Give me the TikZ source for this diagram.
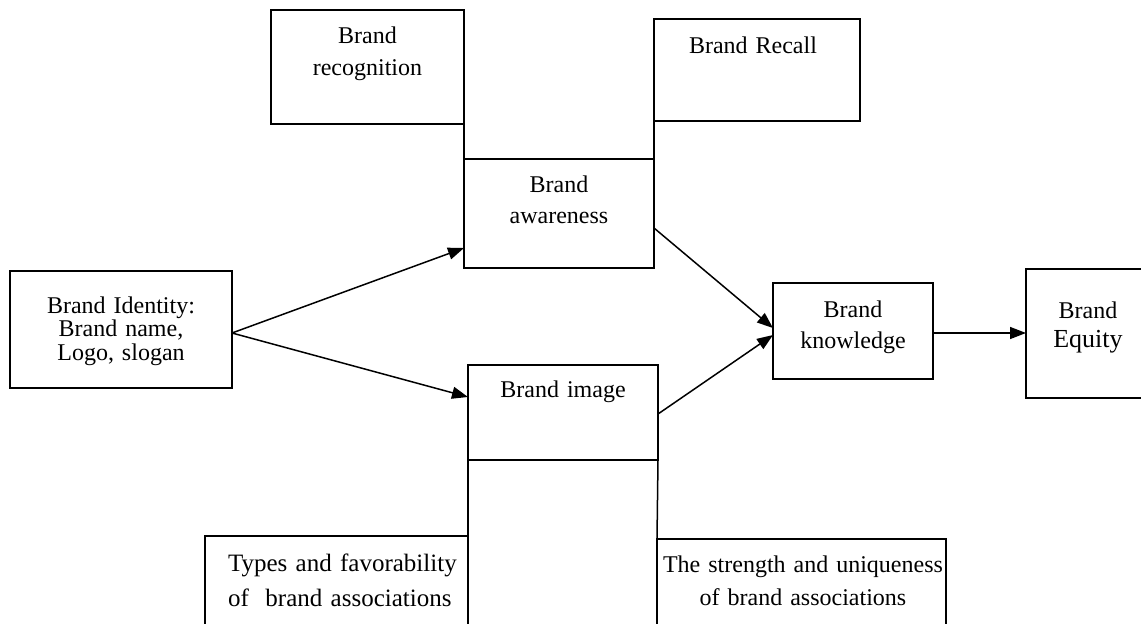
\documentclass[tikz,border=0pt]{standalone}
\usepackage{fontspec}
\setmainfont{Liberation Serif}
\usetikzlibrary{arrows.meta,calc}
\begin{document}
\begin{tikzpicture}[x=1pt,y=-1pt,
  box/.style={draw, line width=1.6pt, inner sep=0pt, outer sep=0pt, anchor=north west},
  lbl/.style={inner sep=0pt, anchor=base, align=center, text width=300pt,
              font=\fontsize{24}{31}\selectfont},
  conn/.style={line width=1.5pt},
  arr/.style={conn, -{Triangle[length=16pt,width=12pt]}}]
\fill[white] (0,0) rectangle (1141,624);
\useasboundingbox (0,0) rectangle (1141,624);

% boxes
\node[box, minimum width=193pt, minimum height=114pt] (rec) at (271,10) {};
\node[box, minimum width=206pt, minimum height=102pt] (rcl) at (654,19) {};
\node[box, minimum width=190pt, minimum height=109pt] (aw)  at (464,159) {};
\node[box, minimum width=222pt, minimum height=117pt] (id)  at (10,271) {};
\node[box, minimum width=190pt, minimum height=95pt]  (img) at (468,365) {};
\node[box, minimum width=160pt, minimum height=96pt]  (kn)  at (773,283) {};
\node[box, minimum width=124pt, minimum height=129pt] (eq)  at (1026,269) {};
\node[box, minimum width=263pt, minimum height=110pt] (typ) at (205,536) {};
\node[box, minimum width=289pt, minimum height=110pt] (str) at (657,539) {};

% labels
\node[lbl, font=\fontsize{24}{32}\selectfont] (rec-t) at (367.5,43) {Brand\\recognition};
\node[lbl] (rcl-t) at (753,53) {Brand Recall};
\node[lbl] (aw-t) at (559,192) {Brand\\awareness};
\node[lbl, font=\fontsize{24}{23.5}\selectfont] (id-t) at (121,313) {Brand Identity:\\Brand name,\\Logo, slogan};
\node[lbl] (img-t) at (563,397) {Brand image};
\node[lbl] (kn-t) at (853,317) {Brand\\knowledge};
\node[lbl, font=\fontsize{24}{29}\selectfont] (eq-t) at (1088,318) {Brand\\{\fontsize{26}{29}\selectfont Equity}};
\node[lbl, font=\fontsize{25}{35}\selectfont] (typ-t) at (343,571)
  {\makebox[230pt][s]{Types and favorability}\\\makebox[230pt][s]{of\ \ brand associations}};
\node[lbl, font=\fontsize{24}{33}\selectfont] (str-t) at (803,572) {The strength and uniqueness\\of brand associations};

% plain connecting lines
\draw[conn] (rec.south east) -- (aw.north west);
\draw[conn] (rcl.south west) -- (aw.north east);
\draw[conn] (img.south west) -- (typ.north east);
\draw[conn] (img.south east) -- (str.north west);

% arrows
\draw[arr] ($(id.east)+(0,3.5)$) -- ($(aw.south west)+(0,-20)$);
\draw[arr] ($(id.east)+(0,3.5)$) -- ($(img.north west)+(0,32)$);
\draw[arr] ($(aw.north east)+(0,69)$) -- ($(kn.west)+(0,-3)$);
\draw[arr] ($(img.north east)+(0,49)$) -- ($(kn.west)+(0,4)$);
\draw[arr] ($(kn.east)+(0,2)$) -- ($(eq.west)+(0,-0.5)$);
\end{tikzpicture}
\end{document}
